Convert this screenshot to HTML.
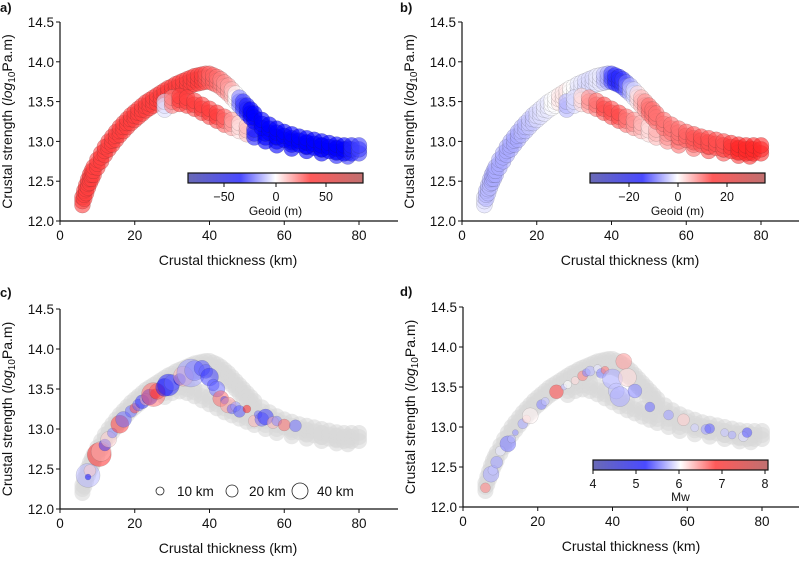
<!DOCTYPE html>
<html><head><meta charset="utf-8"><style>
body{margin:0;background:#fff;width:799px;height:556px;overflow:hidden;font-family:"Liberation Sans",sans-serif}
svg text{font-family:"Liberation Sans",sans-serif;fill:#111}
</style></head><body>
<svg id="c" width="799" height="556" viewBox="0 0 799 556" xmlns="http://www.w3.org/2000/svg"></svg>
<script>
// band points: [thickness, strength]
const arcX=[6,6.5,7,7.5,8,8.5,9,10,11,12,13,14,15,16,17,18,19,20,21,22,23,24,25,26,27,28,29,30,31,32,33,34,35,36,37,38,39];
const arcY=[12.25,12.33,12.4,12.47,12.53,12.58,12.63,12.72,12.8,12.88,12.95,13.01,13.07,13.13,13.18,13.23,13.28,13.32,13.36,13.4,13.44,13.47,13.5,13.53,13.56,13.59,13.62,13.64,13.67,13.69,13.71,13.73,13.75,13.77,13.78,13.79,13.8];
const upX=[40,41,42,43,44,45,46,47,48,49,50,51,52,54,56,58,60,62,64,66,68,70,72,74,76,78,80];
const upY=[13.8,13.78,13.76,13.73,13.69,13.65,13.6,13.55,13.5,13.45,13.4,13.35,13.3,13.22,13.16,13.11,13.07,13.04,13.01,12.99,12.97,12.95,12.93,12.91,12.9,12.9,12.9];
const lowX=[28,30,32,34,36,38,40,42,44,46,48,50,52,55,58,62,66,70,74,77];
const lowY=[13.45,13.5,13.52,13.5,13.46,13.41,13.36,13.31,13.26,13.22,13.18,13.14,13.1,13.05,13.0,12.96,12.93,12.9,12.87,12.86];
// geoid values (m) per branch panel a
const geoidArc=[60,60,60,60,60,60,60,60,60,60,60,60,60,60,60,60,60,60,60,60,60,60,60,60,60,60,60,60,60,60,60,60,60,60,60,60,55];
const geoidUp=[50,50,45,40,35,30,20,0,-40,-60,-70,-80,-80,-80,-80,-80,-80,-80,-80,-80,-80,-80,-80,-80,-80,-70,-60];
const geoidLow=[-10,40,60,60,60,60,60,60,50,30,10,20,-70,-80,-80,-80,-80,-80,-70,-60];
// panel b geoid
const geoidArcB=[-5,-10,-10,-10,-12,-12,-12,-12,-12,-12,-12,-12,-12,-10,-10,-8,-8,-5,-5,-3,-3,0,0,3,3,3,0,0,-3,-3,-5,-5,-5,-3,-3,-8,-12];
const geoidUpB=[-25,-30,-30,-28,-20,-10,-5,5,10,15,20,20,20,20,20,20,22,24,25,25,25,25,28,30,30,30,30];
const geoidLowB=[-10,-5,5,15,20,25,25,25,20,15,10,5,10,15,20,20,25,25,28,30];
// panel c quakes: x, y, depth-size(px), value(-1..1)
const cX=[7.5,8,7.5,10.5,11,12,13,14,16,17,19,20,21,22,23,24,25,25.5,26,28,29,30,32,33,35,36,38,39,40,41,42,43,44,45,46,47,48,50,52,53,54,55,57,58,60,63];
const cY=[12.42,12.48,12.4,12.68,12.72,12.8,12.87,12.95,13.06,13.12,13.22,13.26,13.3,13.34,13.37,13.4,13.43,13.44,13.47,13.52,13.55,13.58,13.62,13.66,13.7,13.73,13.76,13.72,13.65,13.55,13.5,13.38,13.36,13.3,13.25,13.28,13.22,13.25,13.1,13.18,13.12,13.15,13.08,13.1,13.05,13.04];
const cR=[12,6,3,12,10,6,8,5,9,8,6,5,6,7,6,8,12,5,8,9,11,8,6,10,14,10,8,7,9,6,8,8,4,8,5,5,6,4,6,4,7,8,6,5,6,6];
const cV=[-0.3,0.2,-1,0.9,0.3,-0.8,0.2,-0.5,0.8,-0.6,-0.6,0.7,-0.6,-0.8,0.3,-0.9,0.6,0.9,0.7,-0.9,-0.9,-0.6,-1,0.3,-0.4,-0.5,-0.7,-0.6,-0.8,-0.7,-0.6,0.6,-0.7,0.4,-0.6,-0.4,-0.7,0.9,0.3,-0.6,-0.6,-0.8,0.3,-0.5,0.6,-0.6];
// panel d quakes: x,y,size(px),Mw
const dX=[6,7.5,8,9,10,12,13,14,16,17,18,21,22,25,27,28,30,32,33,34,36,37,38,40,41,42,43,44,46,50,55,59,62,65,66,70,72,75,76];
const dY=[12.24,12.41,12.46,12.56,12.7,12.79,12.85,12.93,13.04,13.1,13.14,13.28,13.32,13.44,13.5,13.53,13.58,13.64,13.68,13.7,13.73,13.67,13.71,13.6,13.45,13.38,13.82,13.62,13.45,13.25,13.15,13.09,12.99,12.97,12.98,12.93,12.9,12.88,12.93];
const dR=[5,8,5,6,5,8,4,3,5,4,8,5,4,7,3,4,4,5,4,5,4,5,4,10,8,10,8,9,7,5,5,6,4,5,5,4,4,5,5];
const dMw=[7,5.3,5.5,5.2,5.8,4.9,5.4,5.1,5.3,6.5,6.1,5,5.5,7.5,5.5,6,6.3,7,5,5.4,5.8,5,7.1,5.3,5.5,5.3,6.8,6.3,5,4.8,5.2,6.4,5.6,5.2,4.7,5.5,5.3,5.7,4.6];

const svg=document.getElementById('c');
const NS='http://www.w3.org/2000/svg';
function mk(t,a,p){const e=document.createElementNS(NS,t);for(const k in a)e.setAttribute(k,a[k]);(p||svg).appendChild(e);return e;}
function col(v){v=Math.max(-1,Math.min(1,v));let r,g,b;if(v<0){r=Math.round(255*(1+v));g=r;b=255;}else{r=255;g=Math.round(255*(1-v));b=g;}return `rgb(${r},${g},${b})`;}
const panels=[
 {ox:60,top:22,bot:221,lab:'a)',lx:0,ly:12},
 {ox:462,top:22,bot:221,lab:'b)',lx:400,ly:12},
 {ox:60,top:309,bot:509,lab:'c)',lx:0,ly:297},
 {ox:463,top:307,bot:507,lab:'d)',lx:400,ly:296}];
function axes(P,i){
 const g=mk('g',{});
 
 
 P.sx=x=>P.ox+x*(299/80);
 P.sy=y=>P.bot-(y-12)*(P.bot-P.top)/2.5;
 const lt=mk('text',{x:P.lx,y:P.ly,'font-size':13,'font-weight':'bold'},g);lt.textContent=P.lab;
 
 mk('line',{x1:P.ox,y1:P.top,x2:P.ox,y2:P.bot,stroke:'#111','stroke-width':1.2},g);
 mk('line',{x1:P.ox,y1:P.bot,x2:P.ox+338,y2:P.bot,stroke:'#111','stroke-width':1.2},g);
 [12,12.5,13,13.5,14,14.5].forEach(v=>{const y=P.sy(v);mk('line',{x1:P.ox-4,y1:y,x2:P.ox,y2:y,stroke:'#111'},g);
  const t=mk('text',{x:P.ox-6,y:y+5,'font-size':13.5,'text-anchor':'end'},g);t.textContent=v.toFixed(1);});
 [0,20,40,60,80].forEach(v=>{const x=P.sx(v);mk('line',{x1:x,y1:P.bot,x2:x,y2:P.bot+4,stroke:'#111'},g);
  const t=mk('text',{x:x,y:P.bot+19,'font-size':13.5,'text-anchor':'middle'},g);t.textContent=v;});
 const xt=mk('text',{x:P.ox+168,y:P.bot+44,'font-size':14,'text-anchor':'middle'},g);xt.textContent='Crustal thickness (km)';
 
 const cy=(P.top+P.bot)/2;
 const yt=mk('text',{x:0,y:0,'font-size':14,'text-anchor':'middle',transform:`translate(${P.ox-48},${cy}) rotate(-90)`},g);
 yt.innerHTML='Crustal strength (<tspan font-style="italic">log</tspan><tspan font-size="10" dy="3">10</tspan><tspan dy="-3">Pa.m)</tspan>';
 
 return g;
}
panels.forEach(axes);
function band(P,vals,scale,gray){
 const sets=[[arcX,arcY,vals&&vals[0]],[lowX,lowY,vals&&vals[2]],[upX,upY,vals&&vals[1]]];
 sets.forEach(([X,Y,V])=>X.forEach((x,i)=>{
  [-0.05,0,0.05].forEach(d=>{
   const c=mk('circle',{cx:P.sx(x),cy:P.sy(Y[i]+d),r:8,fill:gray?'#d8d8d8':col(V[i]/scale),'fill-opacity':gray?0.6:0.6,stroke:gray?'none':'#222','stroke-opacity':0.25,'stroke-width':0.5});
   
   
  });
 }));
}
band(panels[0],[geoidArc,geoidUp,geoidLow],80,false);
band(panels[1],[geoidArcB,geoidUpB,geoidLowB],36,false);
band(panels[2],null,1,true);
band(panels[3],null,1,true);
cX.forEach((x,i)=>{const P=panels[2];
 const c=mk('circle',{cx:P.sx(x),cy:P.sy(cY[i]),r:cR[i],fill:col(cV[i]),'fill-opacity':0.5,stroke:'#444','stroke-opacity':0.25,'stroke-width':0.5});
 
 });
dX.forEach((x,i)=>{const P=panels[3];
 const c=mk('circle',{cx:P.sx(x),cy:P.sy(dY[i]),r:dR[i],fill:col((dMw[i]-6)/2.2),'fill-opacity':0.6,stroke:'#444','stroke-opacity':0.25,'stroke-width':0.5});
 
 });
// colorbars
function cbar(x0,x1,y,ticks,vals,label,ly,name){
 const g=mk('g',{});
 const id='gr'+name;const gr=mk('linearGradient',{id:id,x1:0,x2:1,y1:0,y2:0},g);
 [[0,'#6a6ab5'],[0.3,'#4a4aff'],[0.5,'#ffffff'],[0.7,'#ff5a5a'],[1,'#c07070']].forEach(([o,c])=>mk('stop',{offset:o,'stop-color':c},gr));
 mk('rect',{x:x0,y:y,width:x1-x0,height:10,fill:`url(#${id})`,stroke:'#111','stroke-width':1.2},g);
 ticks.forEach((tx,i)=>{mk('line',{x1:tx,y1:y+10,x2:tx,y2:y+14,stroke:'#111'},g);
  const t=mk('text',{x:tx,y:y+28,'font-size':12.5,'text-anchor':'middle'},g);t.textContent=vals[i];});
 const t=mk('text',{x:(x0+x1)/2,y:ly,'font-size':12,'text-anchor':'middle'},g);t.textContent=label;
}
cbar(188,363,173,[224,276,326],['\u221250','0','50'],'Geoid (m)',215,'geoid-colorbar-a');
cbar(590,765,173,[629,678,727],['\u221220','0','20'],'Geoid (m)',215,'geoid-colorbar-b');
cbar(593,768,460,[593,636,679,722,765],['4','5','6','7','8'],'Mw',501,'mw-colorbar');
// legend c
const lg=mk('g',{});
[[160,4,'10 km'],[232,6,'20 km'],[300,8,'40 km']].forEach(([x,r,t])=>{mk('circle',{cx:x,cy:491,r:r,fill:'none',stroke:'#222','stroke-width':0.8},lg);
 const e=mk('text',{x:x+17,y:496,'font-size':13.5},lg);e.textContent=t;});
</script>
</body></html>
